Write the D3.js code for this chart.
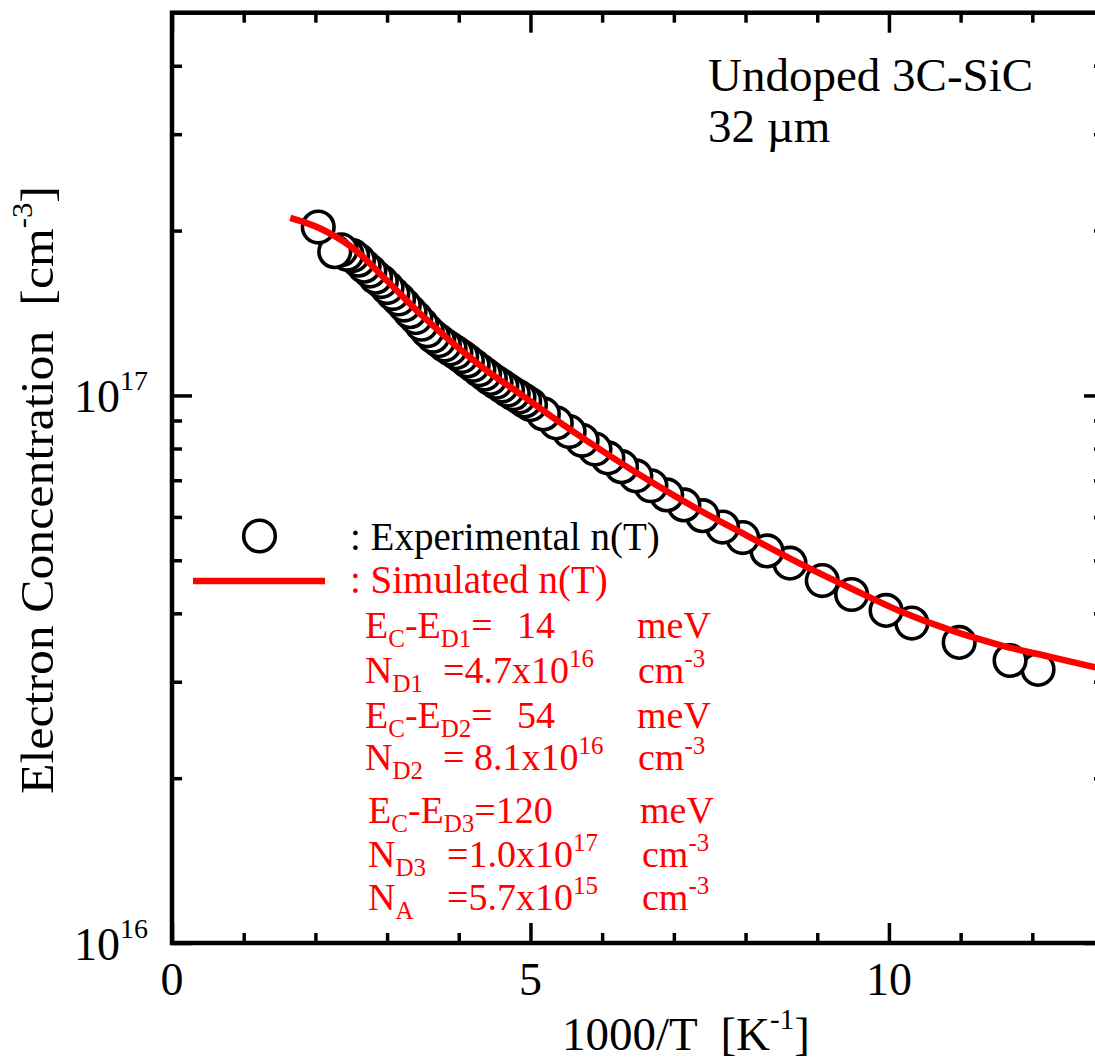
<!DOCTYPE html>
<html>
<head>
<meta charset="utf-8">
<script src="https://cdn.jsdelivr.net/npm/d3@7"></script>
<style>
  html, body { margin: 0; padding: 0; background: #fff; }
  svg { display: block; }
  text { font-family: "Liberation Serif", "Times New Roman", serif; white-space: pre; }
</style>
</head>
<body>
<svg id="chart" width="1095" height="1059"></svg>
<script>
// Measured Hall electron concentration n(T), undoped 3C-SiC, 32 um
const invT = [2.04, 2.27, 2.36, 2.44, 2.52, 2.60, 2.68, 2.76, 2.84, 2.92, 3.00, 3.08, 3.16, 3.24,
  3.32, 3.40, 3.48, 3.56, 3.64, 3.72, 3.80, 3.88, 3.96, 4.04, 4.12, 4.20, 4.28, 4.36, 4.44, 4.52,
  4.60, 4.68, 4.76, 4.84, 4.92, 5.00, 5.18, 5.36, 5.54, 5.72, 5.90, 6.08, 6.27, 6.47, 6.68, 6.90,
  7.14, 7.40, 7.68, 7.96, 8.30, 8.62, 9.07, 9.48, 9.96, 10.32, 10.98, 11.69, 12.08];
const nExp = [2.03e17, 1.83e17, 1.845e17, 1.81e17, 1.80e17, 1.766e17, 1.722e17, 1.687e17, 1.644e17,
  1.614e17, 1.574e17, 1.535e17, 1.500e17, 1.462e17, 1.422e17, 1.387e17, 1.349e17, 1.312e17, 1.282e17,
  1.259e17, 1.236e17, 1.216e17, 1.197e17, 1.178e17, 1.156e17, 1.135e17, 1.114e17, 1.094e17, 1.074e17,
  1.057e17, 1.040e17, 1.023e17, 1.007e17, 9.93e16, 9.77e16, 9.62e16, 9.25e16, 8.91e16, 8.59e16,
  8.28e16, 7.98e16, 7.69e16, 7.41e16, 7.13e16, 6.84e16, 6.58e16, 6.31e16, 6.03e16, 5.75e16, 5.50e16,
  5.20e16, 4.94e16, 4.59e16, 4.33e16, 4.05e16, 3.84e16, 3.54e16, 3.28e16, 3.16e16];

// Simulated n(T) from the three-donor / one-acceptor charge-neutrality fit
const simInvT = [1.65, 2.06, 2.52, 3.00, 3.46, 3.92, 4.39, 4.85, 5.31, 5.97, 6.67, 7.36, 8.06,
  8.76, 9.46, 10.15, 10.85, 11.55, 12.25, 12.87, 13.0];
const simN = [2.11e17, 2.02e17, 1.86e17, 1.62e17, 1.41e17, 1.245e17, 1.11e17, 1.008e17, 9.12e16,
  7.97e16, 6.97e16, 6.17e16, 5.51e16, 4.93e16, 4.45e16, 4.04e16, 3.73e16, 3.50e16, 3.33e16,
  3.19e16, 3.16e16];

// Axis ticks
const xMajorTicks = [0, 5, 10];
const xMinorTicks = [1, 2, 3, 4, 6, 7, 8, 9, 11, 12];
const yMajorTicks = [1e16, 1e17];
const yMinorTicks = [2e16, 3e16, 4e16, 5e16, 6e16, 7e16, 8e16, 9e16, 2e17, 3e17, 4e17];

// Texts
const sampleLines = ["Undoped 3C-SiC", "32 \u00b5m"];
const legendLabels = [": Experimental n(T)", ": Simulated n(T)"];
// Fit parameters: [name segments, value segments, unit segments]
const fitParams = [
  [[["E", "n"], ["C", "sub"], ["-E", "n"], ["D1", "sub"], ["=", "n"]], [["14", "n"]], [["meV", "n"]]],
  [[["N", "n"], ["D1", "sub"]], [["=4.7x10", "n"], ["16", "sup"]], [["cm", "n"], ["-3", "sup"]]],
  [[["E", "n"], ["C", "sub"], ["-E", "n"], ["D2", "sub"], ["=", "n"]], [["54", "n"]], [["meV", "n"]]],
  [[["N", "n"], ["D2", "sub"]], [["= 8.1x10", "n"], ["16", "sup"]], [["cm", "n"], ["-3", "sup"]]],
  [[["E", "n"], ["C", "sub"], ["-E", "n"], ["D3", "sub"], ["=120", "n"]], [], [["meV", "n"]]],
  [[["N", "n"], ["D3", "sub"]], [["=1.0x10", "n"], ["17", "sup"]], [["cm", "n"], ["-3", "sup"]]],
  [[["N", "n"], ["A", "sub"]], [["=5.7x10", "n"], ["15", "sup"]], [["cm", "n"], ["-3", "sup"]]]
];

(function draw() {
  const plotL = 172, plotR = 1104, plotT = 12.7, plotB = 943;
  const RED = "#ff0000";

  const svg = d3.select("#chart");

  const x = d3.scaleLinear().domain([0, 13]).range([plotL, plotR]);
  const y = d3.scaleLog().domain([1e16, 5e17]).range([plotB, plotT]);

  svg.append("defs").append("clipPath").attr("id", "plotClip")
    .append("rect").attr("x", plotL).attr("y", plotT).attr("width", plotR - plotL).attr("height", plotB - plotT);

  // Inward ticks on all four sides
  function addAxis(axis, tx, ty, vals, size) {
    const g = svg.append("g").attr("transform", `translate(${tx},${ty})`)
      .call(axis.tickValues(vals).tickSize(size).tickFormat(""));
    g.select(".domain").remove();
    g.selectAll("text").remove();
    g.selectAll(".tick line").attr("stroke", "#000").attr("stroke-width", 3.5);
    return g;
  }
  addAxis(d3.axisBottom(x), 0, plotB, xMinorTicks, -10);
  addAxis(d3.axisBottom(x), 0, plotB, xMajorTicks, -20);
  addAxis(d3.axisTop(x), 0, plotT, xMinorTicks, -10);
  addAxis(d3.axisTop(x), 0, plotT, xMajorTicks, -20);
  addAxis(d3.axisLeft(y), plotL, 0, yMinorTicks, -10);
  addAxis(d3.axisLeft(y), plotL, 0, yMajorTicks, -20);
  addAxis(d3.axisRight(y), plotR, 0, yMinorTicks, -10);
  addAxis(d3.axisRight(y), plotR, 0, yMajorTicks, -20);

  // Frame
  svg.append("rect").attr("x", plotL).attr("y", plotT).attr("width", plotR - plotL).attr("height", plotB - plotT)
    .attr("fill", "none").attr("stroke", "#000").attr("stroke-width", 4.5);

  // X tick labels
  svg.append("g").selectAll("text").data(xMajorTicks).join("text")
    .attr("x", d => x(d)).attr("y", plotB + 52).attr("text-anchor", "middle")
    .attr("font-size", 46).attr("fill", "#000").text(d => d);

  // Y tick labels (10^n)
  svg.append("g").selectAll("text").data(yMajorTicks).join("text")
    .attr("x", plotL - 24).attr("y", d => y(d) + 17).attr("text-anchor", "end")
    .attr("font-size", 46).attr("fill", "#000")
    .each(function (d) {
      const t = d3.select(this);
      t.append("tspan").text("10");
      t.append("tspan").attr("dy", -22).attr("font-size", 28).text(Math.round(Math.log10(d)));
    });

  // Axis titles
  const xTitle = svg.append("text").attr("x", 562).attr("y", 1050).attr("font-size", 47).attr("fill", "#000");
  xTitle.append("tspan").text("1000/T  [K");
  xTitle.append("tspan").attr("dy", -21).attr("font-size", 29).text("-1");
  xTitle.append("tspan").attr("dy", 21).text("]");

  const yTitle = svg.append("text").attr("transform", "translate(53,490) rotate(-90) scale(1.06,1)")
    .attr("text-anchor", "middle").attr("font-size", 47).attr("fill", "#000");
  yTitle.append("tspan").text("Electron Concentration  [cm");
  yTitle.append("tspan").attr("dy", -21).attr("font-size", 29).text("-3");
  yTitle.append("tspan").attr("dy", 21).text("]");

  // Experimental points (low-temperature end drawn first)
  const expData = invT.map((v, i) => ({ x: v, n: nExp[i] })).sort((a, b) => b.x - a.x);
  svg.append("g").attr("clip-path", "url(#plotClip)")
    .selectAll("circle").data(expData).join("circle")
    .attr("cx", d => x(d.x)).attr("cy", d => y(d.n)).attr("r", 15.8)
    .attr("fill", "#fff").attr("stroke", "#000").attr("stroke-width", 3.6);

  // Simulated curve
  const simData = simInvT.map((v, i) => ({ x: v, n: simN[i] }));
  svg.append("path").datum(simData).attr("clip-path", "url(#plotClip)")
    .attr("d", d3.line().x(d => x(d.x)).y(d => y(d.n)).curve(d3.curveMonotoneX))
    .attr("fill", "none").attr("stroke", RED).attr("stroke-width", 6.5);

  // Sample annotation
  svg.append("g").selectAll("text").data(sampleLines).join("text")
    .attr("x", 708).attr("y", (d, i) => 91 + i * 51).attr("font-size", 47).attr("fill", "#000").text(d => d);

  // Legend
  svg.append("circle").attr("cx", 259.5).attr("cy", 536).attr("r", 15.8)
    .attr("fill", "#fff").attr("stroke", "#000").attr("stroke-width", 3.6);
  svg.append("line").attr("x1", 193).attr("x2", 325).attr("y1", 581).attr("y2", 581)
    .attr("stroke", RED).attr("stroke-width", 6.5);
  svg.append("g").selectAll("text").data(legendLabels).join("text")
    .attr("x", 350).attr("y", (d, i) => 550 + i * 43).attr("font-size", 39)
    .attr("fill", (d, i) => i === 0 ? "#000" : RED).text(d => d);

  // Fit parameter block
  function rich(sel, segs) {
    let off = 0;
    segs.forEach(([t, k]) => {
      const target = k === "sub" ? 9 : k === "sup" ? -16 : 0;
      const ts = sel.append("tspan").attr("dy", target - off).text(t);
      if (k !== "n") ts.attr("font-size", 25);
      off = target;
    });
  }
  const paramBaselines = [638, 683, 728, 770, 823, 867, 910];
  const paramNameX = [365, 365, 365, 365, 368, 368, 368];
  const paramValueX = [517, 443, 517, 443, 0, 447, 447];
  const paramUnitX = [637, 638, 637, 638, 640, 642, 642];
  const pg = svg.append("g").attr("fill", RED).attr("font-size", 38);
  fitParams.forEach((row, i) => {
    const cols = [paramNameX[i], paramValueX[i], paramUnitX[i]];
    row.forEach((segs, j) => {
      if (!segs.length) return;
      const t = pg.append("text").attr("x", cols[j]).attr("y", paramBaselines[i]);
      rich(t, segs);
    });
  });
})();
</script>
</body>
</html>
